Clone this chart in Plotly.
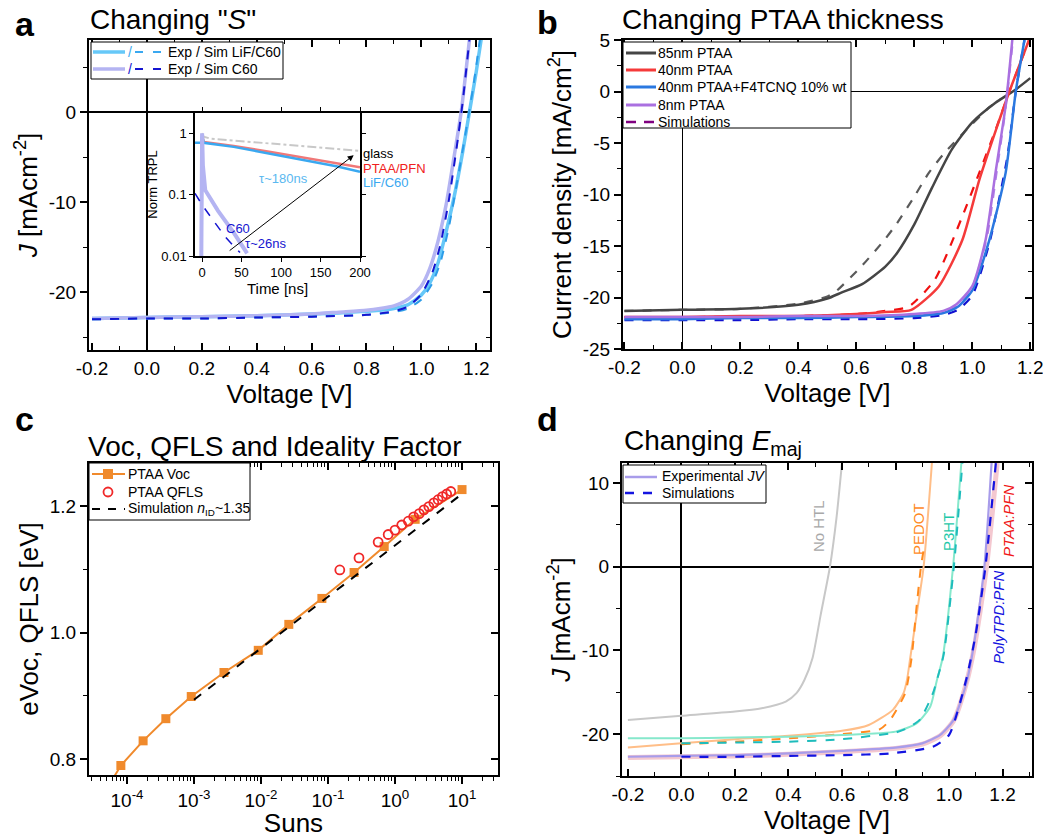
import plotly.graph_objects as go

W, H = 1043, 838
FONT = "Arial, Liberation Sans, sans-serif"

# ---------------- Panel a data ----------------
a_lif_exp_V = [-0.2, 0.0, 0.2, 0.4, 0.6, 0.7, 0.8, 0.85, 0.9, 0.95, 1.0, 1.03, 1.06, 1.09, 1.12, 1.15, 1.175, 1.2, 1.22]
a_lif_exp_J = [-22.9, -22.8, -22.7, -22.6, -22.4, -22.3, -22.1, -22.0, -21.8, -21.4, -20.3, -19.0, -16.8, -13.3, -9.3, -4.5, 0.0, 4.5, 8.5]
a_lif_sim_V = [-0.2, 0.0, 0.2, 0.4, 0.6, 0.8, 0.9, 0.95, 1.0, 1.04, 1.07, 1.1, 1.13, 1.16, 1.19, 1.215]
a_lif_sim_J = [-23.0, -22.9, -22.9, -22.8, -22.7, -22.5, -22.2, -21.8, -20.8, -19.0, -16.6, -12.8, -7.8, -2.5, 3.0, 8.5]
a_c60_exp_V = [-0.2, 0.0, 0.2, 0.4, 0.6, 0.7, 0.8, 0.85, 0.9, 0.95, 1.0, 1.03, 1.06, 1.09, 1.12, 1.145, 1.175]
a_c60_exp_J = [-22.9, -22.8, -22.7, -22.6, -22.4, -22.2, -22.0, -21.8, -21.5, -20.8, -19.3, -17.4, -14.4, -10.3, -4.8, 0.0, 8.0]
a_c60_sim_V = [-0.2, 0.0, 0.2, 0.4, 0.6, 0.8, 0.9, 0.95, 1.0, 1.04, 1.07, 1.1, 1.13, 1.15, 1.175]
a_c60_sim_J = [-23.0, -22.9, -22.9, -22.8, -22.7, -22.5, -22.1, -21.6, -20.2, -17.8, -14.6, -9.8, -3.6, 1.0, 8.0]

# inset TRPL (time ns, normalised PL)
in_glass_t = [0, 2, 10, 40, 74, 110, 150, 200]
in_glass_y = [1.0, 0.88, 0.82, 0.76, 0.70, 0.64, 0.58, 0.515]
in_ptaa_t = [-1, 0, 2, 40, 85, 130, 170, 200]
in_ptaa_y = [0.02, 0.95, 0.72, 0.62, 0.50, 0.40, 0.33, 0.28]
in_lif_t = [-9, -1, 0, 2, 40, 85, 130, 170, 200]
in_lif_y = [0.70, 0.70, 0.95, 0.70, 0.60, 0.47, 0.37, 0.29, 0.235]
in_c60_t = [-1, 0, 1, 4, 20, 40, 57]
in_c60_y = [0.01, 1.0, 0.3, 0.118, 0.055, 0.024, 0.011]
in_c60sim_t = [-9, 0, 10, 20, 30, 40, 48]
in_c60sim_y = [0.105, 0.068, 0.045, 0.030, 0.020, 0.0145, 0.0114]

# ---------------- Panel b data ----------------
b85_V = [-0.2, 0.0, 0.2, 0.4, 0.5, 0.55, 0.62, 0.7, 0.74, 0.8, 0.86, 0.93, 1.0, 1.08, 1.15, 1.2]
b85_J = [-21.3, -21.2, -21.1, -20.7, -20.1, -19.5, -18.7, -17.0, -15.7, -12.9, -9.4, -5.6, -3.0, -1.1, 0.2, 1.3]
b85s_V = [-0.2, 0.0, 0.2, 0.4, 0.5, 0.53, 0.62, 0.7, 0.74, 0.8, 0.85, 0.9, 0.97, 1.06, 1.1]
b85s_J = [-21.3, -21.2, -21.1, -20.6, -19.9, -19.4, -16.9, -14.3, -12.8, -10.2, -7.9, -6.1, -4.0, -1.5, -0.7]
b40_V = [-0.2, 0.0, 0.2, 0.4, 0.6, 0.7, 0.79, 0.885, 0.966, 1.024, 1.082, 1.128, 1.2]
b40_J = [-21.9, -21.9, -21.8, -21.8, -21.6, -21.4, -21.2, -18.9, -14.4, -8.6, -3.7, 0.0, 5.3]
b40s_V = [-0.2, 0.0, 0.4, 0.6, 0.7, 0.78, 0.87, 0.966, 1.024, 1.082, 1.128, 1.2]
b40s_J = [-21.9, -21.9, -21.8, -21.6, -21.3, -20.9, -18.3, -12.1, -7.9, -3.6, 0.0, 5.3]
bF4_V = [-0.2, 0.0, 0.2, 0.4, 0.6, 0.8, 0.9, 0.95, 1.0, 1.058, 1.115, 1.15, 1.18]
bF4_J = [-22.1, -22.1, -22.0, -22.0, -21.9, -21.8, -21.5, -20.9, -19.3, -14.5, -7.9, 0.0, 5.0]
bF4s_V = [-0.2, 0.0, 0.2, 0.4, 0.6, 0.8, 0.9, 0.95, 1.0, 1.06, 1.12, 1.15, 1.18]
bF4s_J = [-22.2, -22.2, -22.2, -22.1, -22.1, -22.0, -21.7, -21.2, -19.8, -14.6, -6.5, 0.0, 5.0]
b8_V = [-0.2, 0.0, 0.2, 0.4, 0.6, 0.8, 0.9, 0.943, 1.0, 1.046, 1.08, 1.115, 1.138]
b8_J = [-21.9, -21.9, -21.9, -21.8, -21.8, -21.6, -21.3, -20.7, -18.9, -14.4, -7.9, -1.4, 5.0]
b8s_V = [-0.2, 0.0, 0.2, 0.4, 0.6, 0.8, 0.9, 0.95, 1.0, 1.05, 1.085, 1.115, 1.14]
b8s_J = [-22.0, -22.0, -22.0, -21.9, -21.9, -21.7, -21.4, -20.7, -19.0, -14.2, -7.6, -1.6, 5.0]

# ---------------- Panel c data ----------------
c_voc_suns = [4.5e-5, 8.1e-5, 1.74e-4, 3.8e-4, 9.1e-4, 2.8e-3, 9.1e-3, 2.6e-2, 8.1e-2, 0.245, 0.69, 2.0, 10.0]
c_voc_V = [0.745, 0.790, 0.829, 0.864, 0.899, 0.937, 0.972, 1.013, 1.054, 1.095, 1.136, 1.179, 1.226]
c_qfls_suns = [0.15, 0.29, 0.56, 0.79, 1.0, 1.26, 1.58, 1.9, 2.3, 2.7, 3.2, 3.8, 4.4, 5.1, 5.9, 6.8]
c_qfls_V = [1.099, 1.118, 1.143, 1.155, 1.162, 1.170, 1.176, 1.183, 1.188, 1.194, 1.199, 1.205, 1.210, 1.215, 1.219, 1.223]
c_sim_suns = [1.0e-3, 1.0e-2, 1.0e-1, 1.0, 8.9]
c_sim_V = [0.894, 0.975, 1.056, 1.138, 1.215]
c_tickvals = [1e-4, 1e-3, 1e-2, 1e-1, 1, 10]
c_ticktext = ["10<sup>-4</sup>", "10<sup>-3</sup>", "10<sup>-2</sup>", "10<sup>-1</sup>", "10<sup>0</sup>", "10<sup>1</sup>"]

# ---------------- Panel d data ----------------
d_nohtl_V = [-0.2, 0.0, 0.2, 0.3, 0.39, 0.43, 0.46, 0.49, 0.52, 0.555, 0.58, 0.6]
d_nohtl_J = [-18.3, -17.8, -17.3, -16.9, -16.1, -15.1, -13.5, -10.9, -5.8, 0.0, 6.0, 12.4]
d_pedot_V = [-0.2, 0.0, 0.2, 0.4, 0.6, 0.7, 0.79, 0.83, 0.843, 0.855, 0.88, 0.905, 0.936]
d_pedot_J = [-21.6, -21.1, -20.6, -20.2, -19.6, -18.9, -17.1, -15.1, -13.5, -10.9, -5.5, 0.0, 12.4]
d_pedots_V = [0.0, 0.2, 0.4, 0.6, 0.742, 0.78, 0.836, 0.86, 0.878, 0.895, 0.905]
d_pedots_J = [-21.2, -20.9, -20.5, -20.0, -19.4, -18.3, -15.1, -10.9, -5.0, 0.0, 2.0]
d_p3ht_V = [-0.2, 0.0, 0.2, 0.4, 0.6, 0.8, 0.88, 0.93, 0.955, 0.976, 1.015, 1.046]
d_p3ht_J = [-20.5, -20.5, -20.4, -20.3, -20.1, -19.7, -18.7, -16.7, -13.5, -10.9, 0.0, 12.4]
d_p3hts_V = [0.0, 0.2, 0.4, 0.6, 0.8, 0.836, 0.89, 0.94, 0.955, 0.98, 1.018, 1.05]
d_p3hts_J = [-21.1, -21.0, -20.9, -20.6, -19.8, -19.4, -18.3, -15.1, -13.5, -10.5, 0.0, 12.4]
d_ptaa_V = [-0.2, 0.0, 0.2, 0.4, 0.6, 0.8, 0.9, 0.967, 1.017, 1.064, 1.095, 1.14, 1.18]
d_ptaa_J = [-22.8, -22.7, -22.6, -22.4, -22.1, -21.7, -21.2, -20.2, -18.4, -14.0, -9.5, 0.0, 12.4]
d_poly_V = [-0.2, 0.0, 0.2, 0.4, 0.6, 0.8, 0.9, 0.967, 1.017, 1.064, 1.092, 1.132, 1.159]
d_poly_J = [-22.7, -22.6, -22.5, -22.3, -22.0, -21.6, -21.1, -20.1, -18.3, -14.0, -9.5, 0.0, 12.4]
d_polys_V = [0.0, 0.2, 0.4, 0.6, 0.78, 0.94, 1.0, 1.064, 1.1, 1.136, 1.175]
d_polys_J = [-22.7, -22.7, -22.6, -22.5, -22.3, -21.5, -20.1, -13.5, -8.0, 0.0, 12.4]

v_ticks = [-0.2, 0.0, 0.2, 0.4, 0.6, 0.8, 1.0, 1.2]
v_ticktext = ["-0.2", "0.0", "0.2", "0.4", "0.6", "0.8", "1.0", "1.2"]

# colours
C_LIF, C_LIF_S = "#66C8F8", "#3AA8F0"
C_C60, C_C60_S = "#B4B4F2", "#1515D0"
C_85, C_40, C_F4, C_8, C_SIM = "#454545", "#F53A3A", "#2A78E0", "#AA70E0", "#800080"
C_VOC, C_QFLS = "#F08A2C", "#F02828"
C_POLY, C_POLY_S = "#A89CEA", "#1414E0"


def px_x(p):
    return p / W


def px_y(p):
    return 1 - p / H


fig = go.Figure()
SPL = dict(shape="spline", smoothing=0.6)


def L(**kw):
    d = dict(SPL)
    d.update(kw)
    return d


def add(x, y, xa, ya, **kw):
    fig.add_trace(go.Scatter(x=x, y=y, xaxis=xa, yaxis=ya, showlegend=False, **kw))


# ---- panel a traces
add(a_lif_exp_V, a_lif_exp_J, "x", "y", mode="lines", line=L(color=C_LIF, width=3.5), name="Exp LiF/C60")
add(a_c60_exp_V, a_c60_exp_J, "x", "y", mode="lines", line=L(color=C_C60, width=3.5), name="Exp C60")
add(a_lif_sim_V, a_lif_sim_J, "x", "y", mode="lines", line=L(color="#2C9CE8", width=2, dash="dash"), name="Sim LiF/C60")
add(a_c60_sim_V, a_c60_sim_J, "x", "y", mode="lines", line=L(color=C_C60_S, width=2, dash="dash"), name="Sim C60")

# ---- inset traces
add(in_glass_t, in_glass_y, "x5", "y5", mode="lines", line=dict(color="#C8C8C8", width=2, dash="dashdot"), name="glass")
add(in_ptaa_t, in_ptaa_y, "x5", "y5", mode="lines", line=dict(color="#F07878", width=2.5), name="PTAA/PFN")
add(in_lif_t, in_lif_y, "x5", "y5", mode="lines", line=dict(color=C_LIF_S, width=2.5), name="LiF/C60")
add(in_c60_t, in_c60_y, "x5", "y5", mode="lines", line=dict(color=C_C60, width=4), name="C60")
add(in_c60sim_t, in_c60sim_y, "x5", "y5", mode="lines", line=dict(color=C_C60_S, width=1.5, dash="dash"), name="C60 sim")

# ---- panel b traces
b_specs = [
    (b85_V, b85_J, b85s_V, b85s_J, C_85, "#5A5A5A", "85nm PTAA"),
    (b40_V, b40_J, b40s_V, b40s_J, C_40, "#F01010", "40nm PTAA"),
    (bF4_V, bF4_J, bF4s_V, bF4s_J, C_F4, "#1010D0", "40nm PTAA+F4TCNQ 10% wt"),
    (b8_V, b8_J, b8s_V, b8s_J, C_8, "#B080E8", "8nm PTAA"),
]
for v, j, vs, js, c, cs, nm in b_specs:
    add(vs, js, "x2", "y2", mode="lines", line=L(color=cs, width=2.2, dash="dash"), name=nm + " sim")
for v, j, vs, js, c, cs, nm in b_specs:
    add(v, j, "x2", "y2", mode="lines", line=L(color=c, width=2.5), name=nm)

# ---- panel c traces
add(c_voc_suns, c_voc_V, "x3", "y3", mode="lines+markers", line=dict(color=C_VOC, width=2),
    marker=dict(symbol="square", size=9, color=C_VOC), name="PTAA Voc")
add(c_qfls_suns, c_qfls_V, "x3", "y3", mode="markers",
    marker=dict(symbol="circle-open", size=9, color=C_QFLS, line=dict(width=1.8)), name="PTAA QFLS")
add(c_sim_suns, c_sim_V, "x3", "y3", mode="lines", line=dict(color="black", width=2, dash="dash"), name="Simulation")

# ---- panel d traces
add(d_nohtl_V, d_nohtl_J, "x4", "y4", mode="lines", line=L(color="#C8C8C8", width=2), name="No HTL")
add(d_pedot_V, d_pedot_J, "x4", "y4", mode="lines", line=L(color="#FFBE88", width=2), name="PEDOT")
add(d_pedots_V, d_pedots_J, "x4", "y4", mode="lines", line=L(color="#FF8A1E", width=2, dash="dash"), name="PEDOT sim")
add(d_p3ht_V, d_p3ht_J, "x4", "y4", mode="lines", line=L(color="#86E8CC", width=2), name="P3HT")
add(d_p3hts_V, d_p3hts_J, "x4", "y4", mode="lines", line=L(color="#1EBCBC", width=2, dash="dash"), name="P3HT sim")
add(d_ptaa_V, d_ptaa_J, "x4", "y4", mode="lines", line=L(color="#F4C8D0", width=5), name="PTAA:PFN")
add(d_poly_V, d_poly_J, "x4", "y4", mode="lines", line=L(color=C_POLY, width=2.2), name="PolyTPD:PFN")
add(d_polys_V, d_polys_J, "x4", "y4", mode="lines", line=L(color=C_POLY_S, width=2.2, dash="dash"), name="PolyTPD:PFN sim")

# dummy traces so that overlay axes are drawn
for xa, ya in [("x", "y6"), ("x2", "y7"), ("x3", "y8"), ("x4", "y9"), ("x6", "y3")]:
    add([], [], xa, ya, hoverinfo="skip")

tickfont = dict(family=FONT, size=19, color="black")
titlefont = dict(family=FONT, size=26, color="black")
INSET_TICK = dict(family=FONT, size=13, color="black")


def ticks_of(vals):
    return [("%g" % v) for v in vals]


def xjv(dom, rng, zw, anchor):
    return dict(domain=dom, range=rng, anchor=anchor, automargin=False, ticklabeloverflow="allow",
                showline=True, linecolor="black", linewidth=2, mirror="ticks",
                ticks="inside", ticklen=7, tickwidth=1.5, tickcolor="black",
                tickmode="array", tickvals=v_ticks, ticktext=v_ticktext, tickfont=tickfont, showgrid=False,
                zeroline=True, zerolinecolor="black", zerolinewidth=zw,
                minor=dict(ticks="inside", ticklen=4, tickmode="linear", tick0=0, dtick=0.1,
                           tickcolor="black", tickwidth=1.2, showgrid=False),
                title=dict(text="Voltage [V]", font=titlefont, standoff=6))


def yjv(dom, rng, tv, mdt, title, zw, anchor):
    return dict(domain=dom, range=rng, automargin=False, ticklabeloverflow="allow",
                showline=True, linecolor="black", linewidth=2, mirror=True,
                ticks="outside", ticklen=7, tickwidth=1.5, tickcolor="black",
                tickmode="array", tickvals=tv, ticktext=ticks_of(tv),
                tickfont=tickfont, showgrid=False, anchor=anchor,
                zeroline=True, zerolinecolor="black", zerolinewidth=zw,
                minor=dict(ticks="outside", ticklen=4, tickmode="linear", tick0=0, dtick=mdt,
                           tickcolor="black", tickwidth=1.2, showgrid=False),
                title=dict(text=title, font=titlefont, standoff=4))


def yright(over, anchor, dom, rng, tv, mdt):
    return dict(overlaying=over, anchor=anchor, side="right", domain=dom, range=rng, automargin=False,
                showline=False, showgrid=False, zeroline=False, showticklabels=False,
                ticks="inside", ticklen=7, tickwidth=1.5, tickcolor="black",
                tickmode="array", tickvals=tv,
                minor=dict(ticks="inside", ticklen=4, tickmode="linear", tick0=0, dtick=mdt,
                           tickcolor="black", tickwidth=1.2, showgrid=False))


log_minor = [m * 10.0 ** e for e in range(-5, 2) for m in range(2, 10)]

# domains
ax_dom = [px_x(89), px_x(490)]
ay_dom = [px_y(350), px_y(40)]
bx_dom = [px_x(623), px_x(1032)]
by_dom = [px_y(349), px_y(40)]
cx_dom = [px_x(89), px_x(498)]
cy_dom = [px_y(775), px_y(463)]
dx_dom = [px_x(622), px_x(1032)]
dy_dom = [px_y(776), px_y(463)]
ix_dom = [px_x(195), px_x(360)]
iy_dom = [px_y(256), px_y(113)]

a_yr = [-26.4, 8.0]
b_yr = [-25.0, 5.0]
c_yr = [0.775, 1.268]
d_yr = [-25.0, 12.4]
c_xr = [-4.567, 1.537]
a_yt = [-20, -10, 0]
b_yt = [-25, -20, -15, -10, -5, 0, 5]
c_yt = [0.8, 1.0, 1.2]
d_yt = [-20, -10, 0, 10]

fig.update_layout(
    width=W, height=H, margin=dict(l=0, r=0, t=0, b=0, autoexpand=False),
    paper_bgcolor="white", plot_bgcolor="white", showlegend=False,
    font=dict(family=FONT, color="black"),
    xaxis=xjv(ax_dom, [-0.211, 1.25], 2, "y"),
    yaxis=yjv(ay_dom, a_yr, a_yt, 5, "<i>J</i> [mAcm<sup>-2</sup>]", 2, "x"),
    xaxis2=xjv(bx_dom, [-0.205, 1.206], 1, "y2"),
    yaxis2=yjv(by_dom, b_yr, b_yt, 2.5, "Current density [mA/cm<sup>2</sup>]", 1, "x2"),
    xaxis4=xjv(dx_dom, [-0.222, 1.31], 2, "y4"),
    yaxis4=yjv(dy_dom, d_yr, d_yt, 5, "<i>J</i> [mAcm<sup>-2</sup>]", 2, "x4"),
    xaxis3=dict(domain=cx_dom, type="log", range=c_xr, automargin=False, showline=True, linecolor="black",
                linewidth=2, mirror=True, ticks="outside", ticklen=7, tickwidth=1.5, tickcolor="black",
                tickmode="array", tickvals=c_tickvals, ticktext=c_ticktext,
                tickfont=tickfont, showgrid=False, zeroline=False, anchor="y3",
                minor=dict(ticks="outside", ticklen=4, tickmode="array", tickvals=log_minor,
                           tickcolor="black", tickwidth=1.2, showgrid=False),
                title=dict(text="Suns", font=titlefont, standoff=0)),
    yaxis3=dict(domain=cy_dom, range=c_yr, automargin=False, showline=True, linecolor="black", linewidth=2,
                mirror=True, ticks="outside", ticklen=7, tickwidth=1.5, tickcolor="black",
                tickmode="array", tickvals=c_yt, ticktext=["0.8", "1.0", "1.2"],
                tickfont=tickfont, showgrid=False, zeroline=False, anchor="x3",
                minor=dict(ticks="outside", ticklen=4, tickmode="linear", tick0=0, dtick=0.1,
                           tickcolor="black", tickwidth=1.2, showgrid=False),
                title=dict(text="eVoc, QFLS [eV]", font=titlefont, standoff=4)),
    xaxis6=dict(overlaying="x3", anchor="y3", side="top", domain=cx_dom, type="log", range=c_xr,
                automargin=False, showline=False, showgrid=False, zeroline=False, showticklabels=False,
                ticks="inside", ticklen=7, tickwidth=1.5, tickcolor="black",
                tickmode="array", tickvals=c_tickvals,
                minor=dict(ticks="inside", ticklen=4, tickmode="array", tickvals=log_minor,
                           tickcolor="black", tickwidth=1.2, showgrid=False)),
    yaxis6=yright("y", "x", ay_dom, a_yr, a_yt, 5),
    yaxis7=yright("y2", "x2", by_dom, b_yr, b_yt, 2.5),
    yaxis8=yright("y3", "x3", cy_dom, c_yr, c_yt, 0.1),
    yaxis9=yright("y4", "x4", dy_dom, d_yr, d_yt, 5),
    xaxis5=dict(domain=ix_dom, range=[-9, 200], anchor="y5", automargin=False, showline=True, linecolor="black",
                linewidth=1.5, mirror="ticks", ticks="outside", ticklen=4, tickcolor="black", dtick=50, tick0=0,
                tickfont=INSET_TICK, showgrid=False, zeroline=False,
                title=dict(text="Time [ns]", font=dict(family=FONT, size=15, color="black"), standoff=1)),
    yaxis5=dict(domain=iy_dom, type="log", range=[-2, 0.33], anchor="x5", automargin=False, showline=True,
                linecolor="black", linewidth=1.5, mirror="ticks", ticks="outside", ticklen=4, tickcolor="black",
                tickvals=[0.01, 0.1, 1], ticktext=["0.01", "0.1", "1"],
                tickfont=INSET_TICK, showgrid=False, zeroline=False,
                title=dict(text="Norm TRPL", font=dict(family=FONT, size=13, color="black"), standoff=1)),
)

# ---------------- legends (boxes with line keys and labels) ----------------
shapes = []
ann = []


def box(x0, y0, x1, y1):
    shapes.append(dict(type="rect", xref="paper", yref="paper", x0=px_x(x0), x1=px_x(x1),
                       y0=px_y(y1), y1=px_y(y0), fillcolor="white", line=dict(color="black", width=1),
                       layer="above"))


def key(x0, x1, y, color, width, dash="solid"):
    shapes.append(dict(type="line", xref="paper", yref="paper", x0=px_x(x0), x1=px_x(x1),
                       y0=px_y(y), y1=px_y(y), line=dict(color=color, width=width, dash=dash), layer="above"))


def label(x, y, text, color="black", size=14):
    ann.append(dict(text=text, x=px_x(x), y=px_y(y), xref="paper", yref="paper", xanchor="left",
                    yanchor="middle", showarrow=False, font=dict(family=FONT, size=size, color=color)))


# panel a
box(91, 42, 283, 79)
for yy, cexp, csim, txt in [(52, C_LIF, C_LIF_S, "Exp / Sim LiF/C60"), (69, C_C60, C_C60_S, "Exp / Sim C60")]:
    key(93, 125, yy, cexp, 3.5)
    label(126, yy, "/", csim)
    key(135, 163, yy, csim, 2, "8px,10px")
    label(166, yy, txt)

# panel b
box(623, 42, 851, 128)
for yy, c, txt in [(53, C_85, "85nm PTAA"), (70, C_40, "40nm PTAA"), (87, C_F4, "40nm PTAA+F4TCNQ 10% wt"),
                   (105, C_8, "8nm PTAA")]:
    key(626, 656, yy, c, 3)
    label(656, yy, txt)
key(626, 656, 122, C_SIM, 2.5, "10px,8px")
label(656, 122, "Simulations")

# panel c
box(89, 463, 250, 520)
key(92, 125, 474, C_VOC, 2)
shapes.append(dict(type="rect", xref="paper", yref="paper", x0=px_x(103), x1=px_x(113), y0=px_y(479), y1=px_y(469),
                   fillcolor=C_VOC, line=dict(color=C_VOC, width=0), layer="above"))
label(126, 474, "PTAA Voc")
shapes.append(dict(type="circle", xref="paper", yref="paper", x0=px_x(103.5), x1=px_x(112.5), y0=px_y(496.5),
                   y1=px_y(487.5), fillcolor="rgba(0,0,0,0)", line=dict(color=C_QFLS, width=1.8), layer="above"))
label(126, 492, "PTAA QFLS")
key(92, 125, 509, "black", 2.2, "8px,8px")
label(126, 509, "Simulation <i>n</i><sub>ID</sub>~1.35")

# panel d
box(623, 465, 766, 503)
key(625, 657, 477, C_POLY, 2.5)
label(660, 476, "Experimental <i>JV</i>")
key(625, 657, 493, C_POLY_S, 2.5, "9px,9px")
label(660, 493, "Simulations")

# panel letters
for txt, x, y in [("a", 13, 45), ("b", 535, 43), ("c", 13, 440), ("d", 535, 440)]:
    ann.append(dict(text=f"<b>{txt}</b>", x=px_x(x), y=px_y(y), xref="paper", yref="paper",
                    xanchor="left", yanchor="bottom", showarrow=False,
                    font=dict(family=FONT, size=34, color="black")))
# titles
for txt, x, y in [("Changing \"<i>S</i>\"", 88, 37), ("Changing PTAA thickness", 620, 37),
                  ("Voc, QFLS and Ideality Factor", 86, 464), ("Changing <i>E</i><sub>maj</sub>", 622, 462)]:
    ann.append(dict(text=txt, x=px_x(x), y=px_y(y), xref="paper", yref="paper",
                    xanchor="left", yanchor="bottom", showarrow=False,
                    font=dict(family=FONT, size=28, color="black")))
# inset labels
ann += [
    dict(text="glass", x=px_x(361), y=-0.325, xref="paper", yref="y5", xanchor="left", showarrow=False,
         font=dict(family=FONT, size=13, color="black")),
    dict(text="PTAA/PFN", x=px_x(361), y=-0.57, xref="paper", yref="y5", xanchor="left", showarrow=False,
         font=dict(family=FONT, size=13, color="#F02020")),
    dict(text="LiF/C60", x=px_x(361), y=-0.80, xref="paper", yref="y5", xanchor="left", showarrow=False,
         font=dict(family=FONT, size=13, color=C_LIF_S)),
    dict(text="τ~180ns", x=103, y=-0.73, xref="x5", yref="y5", showarrow=False,
         font=dict(family=FONT, size=13, color="#5AB8F0")),
    dict(text="C60", x=46, y=-1.545, xref="x5", yref="y5", showarrow=False,
         font=dict(family=FONT, size=13, color=C_C60_S)),
    dict(text="τ~26ns", x=80, y=-1.79, xref="x5", yref="y5", showarrow=False,
         font=dict(family=FONT, size=13, color=C_C60_S)),
    dict(text="", x=192, y=-0.358, ax=33, ay=-1.93, xref="x5", yref="y5", axref="x5", ayref="y5",
         showarrow=True, arrowhead=2, arrowsize=1.2, arrowwidth=1, arrowcolor="black"),
]
# panel d labels (rotated, centred on the given pixel position)
for txt, x, y, c in [("No HTL", 818, 526, "#A8A8A8"), ("PEDOT", 918, 529, "#FF8A1E"),
                     ("P3HT", 948, 532, "#1EC8A8"), ("<i>PTAA:PFN</i>", 1008, 521, "#F01818"),
                     ("<i>PolyTPD:PFN</i>", 998, 617, C_POLY_S)]:
    ann.append(dict(text=txt, x=px_x(x), y=px_y(y), xref="paper", yref="paper", textangle=-90,
                    xanchor="center", yanchor="middle",
                    showarrow=False, font=dict(family=FONT, size=15, color=c)))
fig.update_layout(annotations=ann, shapes=shapes)

fig.write_html("out.html")
